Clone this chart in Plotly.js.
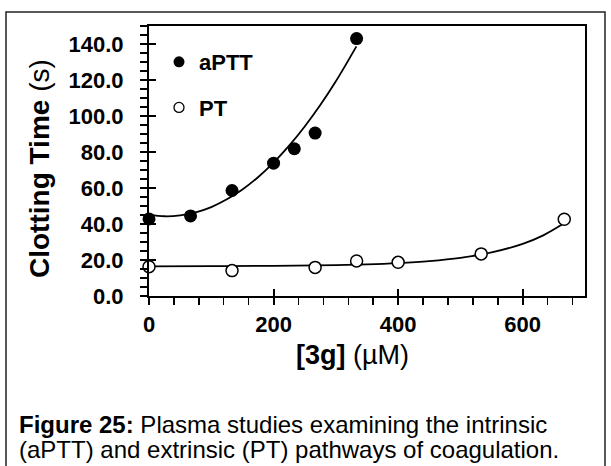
<!DOCTYPE html>
<html>
<head>
<meta charset="utf-8">
<script src="https://cdn.plot.ly/plotly-3.0.1.min.js"></script>
<style>
  html, body { margin: 0; padding: 0; background: #fff; }
  #chart { width: 611px; height: 466px; }
</style>
</head>
<body>
<div id="chart"></div>
<script>
// ---- data ----
const aPTT_x = [0, 66.7, 133.3, 200, 233.3, 266.7, 333.3];
const aPTT_y = [42.8, 44.5, 58.6, 73.8, 81.8, 90.5, 143.0];
const PT_x = [0, 133.3, 266.7, 333.3, 400, 533.3, 666.7];
const PT_y = [16.3, 14.1, 15.9, 19.5, 18.7, 23.4, 42.6];
// fitted trend curves
const aPTT_fit_x = [0, 25, 50, 75, 100, 125, 150, 175, 200, 225, 250, 275, 300, 333];
const aPTT_fit_y = [45.2, 44.3, 44.8, 46.5, 49.4, 53.7, 59.2, 66.0, 74.1, 83.5, 94.2, 106.1, 119.3, 138.7];
const PT_fit_x = [0, 100, 200, 300, 350, 400, 450, 500, 550, 600, 633, 667];
const PT_fit_y = [16.5, 16.6, 16.75, 17.2, 17.6, 18.3, 19.4, 21.2, 24.2, 29.0, 33.7, 40.5];
const seriesNames = ['aPTT', 'PT'];
const xTitle = '<b>[3g]</b> (µM)';
const yTitle = '<b>Clotting Time</b> (s)';
const captionLine1 = '<b>Figure 25:</b> Plasma studies examining the intrinsic';
const captionLine2 = '(aPTT) and extrinsic (PT) pathways of coagulation.';

const FONT = 'Liberation Sans, Arial, sans-serif';
const BLACK = '#000';

const L = 149, R = 26, T = 26, B = 170, W = 611, H = 466;
const pw = W - L - R, ph = H - T - B;
const px = v => (v - L) / pw;          // pixel -> paper x
const py = v => 1 - (v - T) / ph;      // pixel -> paper y

const traces = [
  { x: aPTT_fit_x, y: aPTT_fit_y, mode: 'lines', line: { color: BLACK, width: 1.8, shape: 'spline' },
    showlegend: false, hoverinfo: 'skip' },
  { x: PT_fit_x, y: PT_fit_y, mode: 'lines', line: { color: BLACK, width: 1.8, shape: 'spline' },
    showlegend: false, hoverinfo: 'skip' },
  { x: aPTT_x, y: aPTT_y, mode: 'markers', name: seriesNames[0], cliponaxis: false,
    marker: { symbol: 'circle', size: 13, color: BLACK }, showlegend: false },
  { x: PT_x, y: PT_y, mode: 'markers', name: seriesNames[1], cliponaxis: false,
    marker: { symbol: 'circle', size: 12, color: '#fff', line: { color: BLACK, width: 1.5 } }, showlegend: false },
  // legend entries
  { x: [null], y: [null], mode: 'markers', name: seriesNames[0], legendgroup: 'a',
    marker: { symbol: 'circle', size: 11, color: BLACK } },
  { x: [null], y: [null], mode: 'markers', name: seriesNames[1], legendgroup: 'b',
    marker: { symbol: 'circle', size: 10, color: '#fff', line: { color: BLACK, width: 1.3 } } },
  // carrier for overlay tick axes
  { x: [null], y: [null], xaxis: 'x2', yaxis: 'y2', mode: 'markers', showlegend: false, hoverinfo: 'skip' }
];

const tickFont = { family: FONT, size: 22, color: BLACK, weight: 'bold' };

const layout = {
  width: W, height: H,
  margin: { l: L, r: R, t: T, b: B, pad: 0 },
  paper_bgcolor: '#fff', plot_bgcolor: '#fff',
  font: { family: FONT, color: BLACK },
  showlegend: true,
  legend: {
    x: px(159), y: py(41), xanchor: 'left', yanchor: 'top',
    bgcolor: 'rgba(0,0,0,0)', borderwidth: 0,
    font: { family: FONT, size: 22, color: BLACK, weight: 'bold' },
    traceorder: 'grouped', tracegroupgap: 14, itemwidth: 30
  },
  xaxis: {
    range: [0, 700], tick0: 0, dtick: 200,
    ticks: 'outside', ticklen: 7, tickwidth: 2, tickcolor: BLACK,
    minor: { dtick: 40, tick0: 0, ticks: 'outside', ticklen: 7, tickwidth: 1.5, tickcolor: BLACK, showgrid: false },
    showline: true, linewidth: 2, linecolor: BLACK, mirror: true,
    showgrid: false, zeroline: false,
    tickfont: tickFont, ticklabelstandoff: 1
  },
  yaxis: {
    range: [0, 150], tick0: 0, dtick: 20, tickformat: '.1f',
    ticks: 'outside', ticklen: 7, tickwidth: 2, tickcolor: BLACK,
    minor: { dtick: 5, tick0: 0, ticks: 'outside', ticklen: 7, tickwidth: 1.5, tickcolor: BLACK, showgrid: false },
    showline: true, linewidth: 2, linecolor: BLACK, mirror: true,
    showgrid: false, zeroline: false,
    tickfont: tickFont, ticklabelstandoff: 12
  },
  xaxis2: {
    overlaying: 'x', matches: 'x', side: 'bottom', tick0: 0, dtick: 200,
    ticks: 'inside', ticklen: 7, tickwidth: 2, tickcolor: BLACK,
    showticklabels: false, showline: false, showgrid: false, zeroline: false
  },
  yaxis2: {
    overlaying: 'y', matches: 'y', side: 'left', tick0: 0, dtick: 20,
    ticks: 'inside', ticklen: 7, tickwidth: 2, tickcolor: BLACK,
    showticklabels: false, showline: false, showgrid: false, zeroline: false
  },
  annotations: [
    // axis titles
    { xref: 'paper', yref: 'paper', x: px(352), y: py(355), xanchor: 'center', yanchor: 'middle',
      text: xTitle, showarrow: false, font: { family: FONT, size: 27, color: BLACK } },
    { xref: 'paper', yref: 'paper', x: px(39), y: py(169), xanchor: 'center', yanchor: 'middle',
      text: yTitle, showarrow: false, textangle: -90, font: { family: FONT, size: 28, color: BLACK } },
    // caption
    { xref: 'paper', yref: 'paper', x: px(17), y: py(424), xanchor: 'left', yanchor: 'middle',
      text: captionLine1, showarrow: false, align: 'left',
      font: { family: FONT, size: 24, color: BLACK } },
    { xref: 'paper', yref: 'paper', x: px(17), y: py(449), xanchor: 'left', yanchor: 'middle',
      text: captionLine2, showarrow: false, align: 'left',
      font: { family: FONT, size: 24, color: BLACK } }
  ],
  shapes: [
    { type: 'rect', xref: 'paper', yref: 'paper', layer: 'below',
      x0: px(6), x1: px(605), y0: py(480), y1: py(12),
      line: { color: '#222', width: 1.5 }, fillcolor: 'rgba(0,0,0,0)' }
  ]
};

Plotly.newPlot('chart', traces, layout, { displayModeBar: false, staticPlot: true });
</script>
</body>
</html>
